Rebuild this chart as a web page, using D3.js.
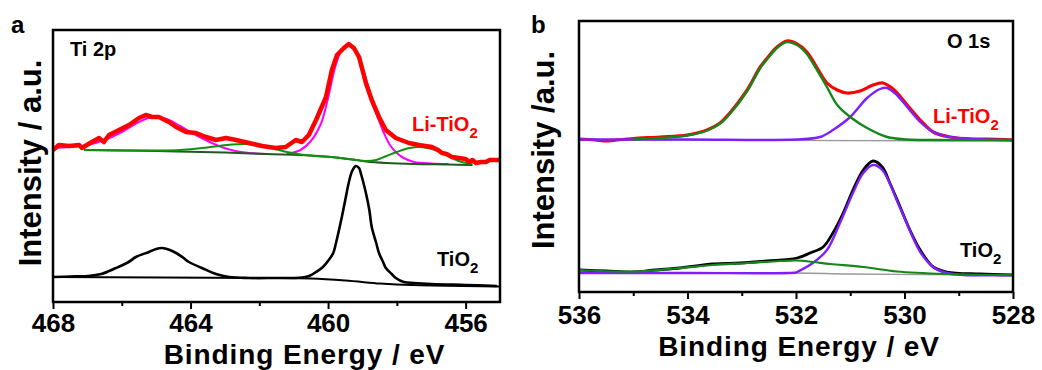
<!DOCTYPE html>
<html>
<head>
<meta charset="utf-8">
<script src="https://cdn.jsdelivr.net/npm/d3@7"></script>
<style>
  body { margin: 0; background: #fff; }
  svg text { font-family: "Liberation Sans", Arial, sans-serif; font-weight: bold; }
</style>
</head>
<body>
<div class="figure"></div>
<script>
// ---- Panel a : Ti 2p ----
var tiLiE = [468.0, 467.83, 467.53, 467.24, 467.16, 466.87, 466.66, 466.52, 466.37, 466.08, 465.79, 465.5, 465.3, 465.12, 464.92, 464.63, 464.42, 464.13, 463.84, 463.55, 463.26, 462.97, 462.68, 462.3, 461.92, 461.52, 461.23, 460.94, 460.76, 460.56, 460.35, 460.06, 459.89, 459.74, 459.54, 459.4, 459.25, 459.1, 458.9, 458.73, 458.52, 458.32, 458.03, 457.65, 457.36, 456.98, 456.8, 456.69, 456.55, 456.4, 456.2, 456.0, 455.9, 455.8, 455.7, 455.55, 455.41, 455.3, 455.12, 455.0];
var tiLiI = [153, 158, 157, 158, 155, 161, 165, 161, 168, 173, 178, 185, 188, 186, 186, 181, 176, 171, 170, 166, 163, 165, 163, 160, 157, 155, 156, 163, 161, 168, 183, 206, 233, 248, 255, 259, 255, 246, 220, 203, 186, 173, 165, 160, 158, 156, 153, 150, 149, 146, 145, 144, 141, 143, 140, 141, 141, 143, 143, 143];

var tiMag1E = [461.2, 460.8, 460.5, 460.2, 460.0, 459.8, 459.6, 459.4, 459.2, 459.0, 458.8, 458.6, 458.4, 458.2, 458.0, 457.8, 457.5, 457.0, 456.5];
var tiMag1I = [149, 153, 162, 180, 205, 235, 253, 258, 252, 236, 212, 190, 172, 158, 150, 145, 141, 139.5, 139];
var tiMag2E = [468.0, 467.5, 467.0, 466.5, 466.0, 465.5, 465.1, 464.7, 464.3, 463.9, 463.5, 463.1, 462.7, 462.3, 461.8];
var tiMag2I = [155, 156, 158, 163, 171, 181, 186, 184, 177, 169, 162, 156, 152, 150, 149];

var tiGreenE = [467.1, 466.0, 465.0, 464.3, 463.8, 463.3, 462.8, 462.4, 462.0, 461.6, 461.2, 460.8, 460.4, 459.9, 459.3, 458.9, 458.6, 458.3, 458.0, 457.7, 457.4, 457.1, 456.8, 456.5, 456.2, 455.9, 455.8];
var tiGreenI = [153, 152.5, 152.5, 153, 154.5, 156.5, 158.5, 159, 157.5, 154.5, 151, 148.5, 147, 146, 143.5, 142, 143, 147, 151, 154.5, 156, 155, 152, 147, 142, 139.5, 139];
var tiBgLiE = [467.1, 465.0, 463.0, 461.8, 460.5, 459.9, 459.3, 458.9, 458.3, 457.5, 456.5, 455.8];
var tiBgLiI = [153, 152, 150.5, 149, 147.5, 146, 143.5, 141.5, 140, 139, 138.5, 138];

var tiPureE = [468.0, 467.5, 467.0, 466.6, 466.17, 465.8, 465.59, 465.21, 465.0, 464.83, 464.6, 464.42, 464.2, 464.05, 463.67, 463.26, 462.88, 462.3, 461.5, 461.0, 460.76, 460.55, 460.35, 460.15, 459.98, 459.85, 459.77, 459.6, 459.5, 459.4, 459.3, 459.19, 459.1, 459.05, 458.9, 458.8, 458.73, 458.6, 458.52, 458.4, 458.32, 458.15, 458.03, 457.8, 457.5, 456.98, 456.0, 455.09];
var tiPureI = [26, 26.5, 27, 29, 35, 41, 46, 51, 54, 55, 53, 50, 45, 41, 35, 29, 26, 25, 25, 25, 25.5, 27, 31, 36, 43, 50, 60, 86, 103, 120, 132, 137, 135, 130, 110, 93, 76, 60, 50, 41, 35, 29, 25, 21, 20, 19, 18, 17];
var tiBgPureE = [468.0, 462.0, 460.5, 459.5, 458.5, 458.0, 457.0, 455.0];
var tiBgPureI = [26, 25, 24.5, 22.5, 19.5, 18.5, 17.5, 16.5];

// ---- Panel b : O 1s ----
var oLiE = [536.0, 535.7, 535.5, 535.3, 535.0, 534.51, 534.01, 533.64, 533.4, 533.22, 532.9, 532.66, 532.53, 532.35, 532.17, 531.98, 531.8, 531.61, 531.43, 531.24, 531.06, 530.82, 530.58, 530.4, 530.21, 529.95, 529.71, 529.47, 529.16, 528.74, 528.48, 528.0];
var oLiI = [156, 155, 154, 155, 156.5, 158, 160, 165, 172, 182, 205, 228, 237, 248, 254, 251, 243, 227, 212, 205, 202, 204, 210, 212, 206, 190, 175, 163, 158, 156, 156, 155];
var oLiGreenE = [535.0, 534.5, 534.0, 533.64, 533.4, 533.22, 532.9, 532.66, 532.53, 532.35, 532.17, 531.98, 531.8, 531.69, 531.43, 531.24, 531.0, 530.69, 530.32, 529.95, 529.5, 528.0];
var oLiGreenI = [155.5, 157, 159.5, 164.5, 171.5, 181, 204, 227, 236, 247, 253, 250, 241, 232, 208, 190, 178, 167, 158, 155.5, 155, 155];
var oLiPurpleE = [536.0, 534.0, 532.0, 531.56, 531.32, 531.0, 530.69, 530.45, 530.32, 530.14, 529.95, 529.71, 529.47, 529.16, 528.74, 528.0];
var oLiPurpleI = [155.5, 155.5, 155.5, 158, 165, 178, 197, 206, 207, 200, 188, 173, 163, 158, 156, 155];
var oBgLiE = [536.0, 528.0];
var oBgLiI = [155, 154];

var oPureE = [535.98, 535.5, 535.0, 534.6, 534.14, 533.53, 533.03, 532.53, 531.98, 531.74, 531.5, 531.32, 531.13, 530.95, 530.76, 530.58, 530.41, 530.27, 530.08, 529.9, 529.71, 529.47, 529.22, 528.61, 528.02];
var oPureI = [25, 24, 23, 25, 27, 31, 32, 34, 37, 42, 48, 62, 82, 105, 125, 134, 128, 112, 88, 65, 45, 28, 23, 21, 20];
var oPurePurpleE = [536.0, 534.0, 532.0, 531.98, 531.69, 531.43, 531.19, 530.95, 530.76, 530.58, 530.41, 530.08, 529.71, 529.47, 529.22, 528.92, 528.02];
var oPurePurpleI = [22, 22, 22.5, 23, 32, 45, 72, 102, 122, 130, 125, 87, 43, 28, 22, 20, 20];
var oPureGreenE = [536.0, 535.0, 534.14, 533.53, 532.9, 532.29, 531.98, 531.69, 531.37, 530.76, 530.14, 529.22, 528.02];
var oPureGreenI = [25, 23.5, 27, 30, 32, 34, 34.5, 33, 31, 28, 23.5, 21, 20];
var oBgPureE = [536.0, 532.0, 531.0, 528.0];
var oBgPureI = [22, 22, 21, 20];

var svgWidth = 1042;
var svgHeight = 370;

var svg = d3.select(".figure")
  .append("svg")
  .attr("width", svgWidth)
  .attr("height", svgHeight);

function zip(xs, ys) {
  return xs.map(function(x, i) { return [x, ys[i]]; });
}

// draws one panel frame and returns its scales
function panel(opt) {
  var x = d3.scaleLinear().domain(opt.xDomain).range([opt.left, opt.right]);
  var y = d3.scaleLinear().domain(opt.yDomain).range([opt.bottom, opt.top]);

  var g = svg.append("g");

  // minor ticks
  g.append("g")
    .attr("transform", "translate(0," + opt.bottom + ")")
    .call(d3.axisBottom(x).tickValues(opt.minor).tickSize(4).tickSizeOuter(0).tickFormat(""))
    .call(function(a) { a.select(".domain").remove(); })
    .selectAll("line").attr("stroke", "#000").attr("stroke-width", 2);

  // major ticks with labels
  var ax = g.append("g")
    .attr("transform", "translate(0," + opt.bottom + ")")
    .call(d3.axisBottom(x).tickValues(opt.major).tickSize(7).tickSizeOuter(0).tickFormat(d3.format("d")));
  ax.select(".domain").remove();
  ax.selectAll("line").attr("stroke", "#000").attr("stroke-width", 2);
  ax.selectAll("text")
    .attr("dy", null)
    .attr("y", opt.tickY)
    .attr("fill", "#000")
    .style("font-size", "26px");

  g.append("text")
    .attr("x", (opt.left + opt.right) / 2 + opt.titleShift)
    .attr("y", opt.titleY)
    .attr("text-anchor", "middle")
    .style("font-size", "28px")
    .style("letter-spacing", "0.9px")
    .text("Binding Energy / eV");

  g.append("text")
    .attr("transform", "translate(" + opt.yLabelX + "," + opt.yLabelY + ") rotate(-90)")
    .attr("text-anchor", "middle")
    .style("font-size", "31px")
    .text(opt.yLabel);

  g.append("text")
    .attr("x", opt.letterX)
    .attr("y", 33)
    .style("font-size", "24px")
    .text(opt.letter);

  return { x: x, y: y, g: g, opt: opt };
}

function curve(p, xs, ys, color, width, kind) {
  var line = d3.line()
    .x(function(d) { return p.x(d[0]); })
    .y(function(d) { return p.y(d[1]); })
    .curve(kind || d3.curveCatmullRom);
  p.g.append("path")
    .datum(zip(xs, ys))
    .attr("fill", "none")
    .attr("stroke", color)
    .attr("stroke-width", width)
    .attr("stroke-linejoin", "round")
    .attr("d", line);
}

function frame(p) {
  var o = p.opt;
  p.g.append("rect")
    .attr("x", o.left)
    .attr("y", o.top)
    .attr("width", o.right - o.left)
    .attr("height", o.bottom - o.top)
    .attr("fill", "none")
    .attr("stroke", "#000")
    .attr("stroke-width", 2.5);
}

function label(p, x, y, main, sub, color, size) {
  var t = p.g.append("text")
    .attr("x", x)
    .attr("y", y)
    .attr("fill", color)
    .style("font-size", size + "px");
  t.append("tspan").text(main);
  if (sub) {
    t.append("tspan").attr("dy", 7).style("font-size", "15px").text(sub);
  }
}

// Panel a
var pa = panel({
  left: 53, right: 500, top: 30, bottom: 302,
  xDomain: [468, 455], yDomain: [1, 273],
  major: [468, 464, 460, 456], minor: [466, 462, 458],
  tickY: 30, titleY: 364, titleShift: 28,
  yLabel: "Intensity / a.u.", yLabelX: 41, yLabelY: 163,
  letter: "a", letterX: 11
});

curve(pa, tiBgPureE, tiBgPureI, "#000", 2);
curve(pa, tiPureE, tiPureI, "#000", 2.6);
curve(pa, tiMag2E, tiMag2I, "#ff00ff", 2);
curve(pa, tiMag1E, tiMag1I, "#ff00ff", 2);
curve(pa, tiBgLiE, tiBgLiI, "#1e5a1e", 2);
curve(pa, tiGreenE, tiGreenI, "#119011", 2);
curve(pa, tiLiE, tiLiI, "#ff0000", 4.5, d3.curveLinear);
frame(pa);

label(pa, 70, 56, "Ti 2p", null, "#000", 20);
label(pa, 412, 131, "Li-TiO", "2", "#ff0000", 20);
label(pa, 437, 266, "TiO", "2", "#000", 20);

// Panel b
var pb = panel({
  left: 579, right: 1013, top: 21, bottom: 292,
  xDomain: [536, 528], yDomain: [3, 274],
  major: [536, 534, 532, 530, 528], minor: [535, 533, 531, 529],
  tickY: 32, titleY: 356, titleShift: 3,
  yLabel: "Intensity /a.u.", yLabelX: 554, yLabelY: 150,
  letter: "b", letterX: 531
});

curve(pb, oBgLiE, oBgLiI, "#999", 1.3);
curve(pb, oLiE, oLiI, "#ff0000", 3.2);
curve(pb, oLiPurpleE, oLiPurpleI, "#7f1fff", 2.4);
curve(pb, oLiGreenE, oLiGreenI, "#14861a", 2.4);
curve(pb, oBgPureE, oBgPureI, "#999", 1.3);
curve(pb, oPureE, oPureI, "#000", 2.8);
curve(pb, oPurePurpleE, oPurePurpleI, "#7f1fff", 2.4);
curve(pb, oPureGreenE, oPureGreenI, "#14861a", 2.2);
frame(pb);

label(pb, 947, 48, "O 1s", null, "#000", 20);
label(pb, 933, 123, "Li-TiO", "2", "#ff0000", 20);
label(pb, 960, 257, "TiO", "2", "#000", 20);
</script>
</body>
</html>
